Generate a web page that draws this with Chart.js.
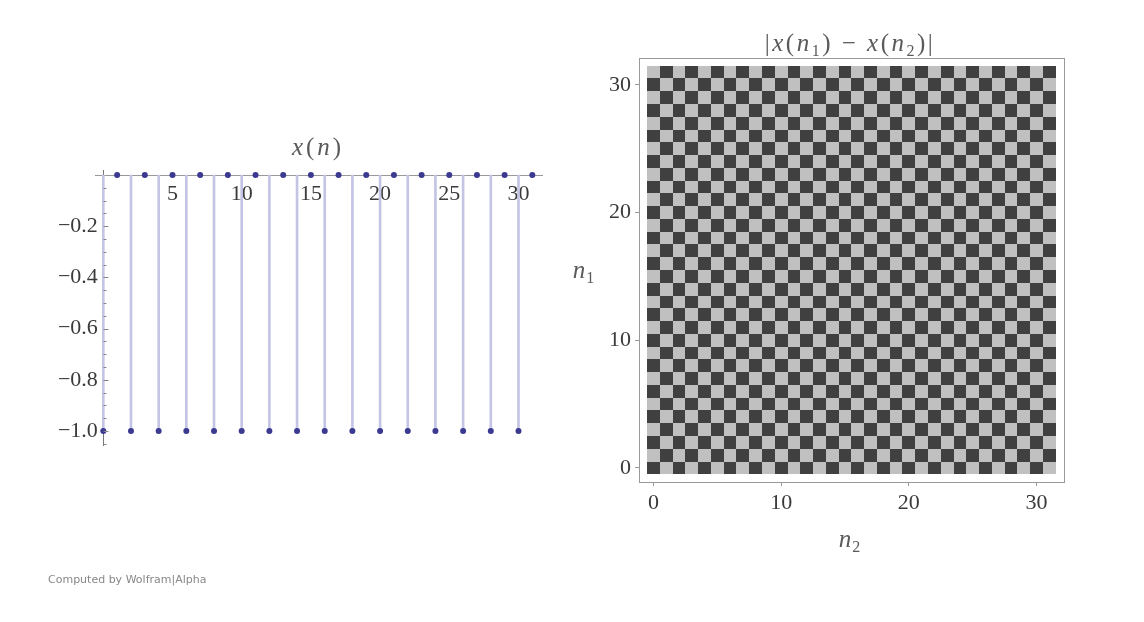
<!DOCTYPE html>
<html>
<head>
<meta charset="utf-8">
<script src="https://cdn.jsdelivr.net/npm/chart.js@4"></script>
<style>
  body { margin: 0; background: #fff; width: 1144px; height: 622px; position: relative; overflow: hidden; }
  #left { position: absolute; left: 0; top: 0; }
  #right { position: absolute; left: 560px; top: 0; }
  #credit { position: absolute; left: 48px; top: 573px; font: 11px "DejaVu Sans"; color: #888; }
</style>
</head>
<body>
<canvas id="left" width="560" height="622"></canvas>
<canvas id="right" width="584" height="622"></canvas>
<div id="credit">Computed by Wolfram|Alpha</div>
<script>
const nValues = [0, 1, 2, 3, 4, 5, 6, 7, 8, 9, 10, 11, 12, 13, 14, 15,
  16, 17, 18, 19, 20, 21, 22, 23, 24, 25, 26, 27, 28, 29, 30, 31];
const xValues = [-1, 0, -1, 0, -1, 0, -1, 0, -1, 0, -1, 0, -1, 0, -1, 0,
  -1, 0, -1, 0, -1, 0, -1, 0, -1, 0, -1, 0, -1, 0, -1, 0];
const stemTicksX = [5, 10, 15, 20, 25, 30];
const stemTicksY = [-1.0, -0.8, -0.6, -0.4, -0.2];
const stemMinorY = [-1.05, -0.95, -0.9, -0.85, -0.75, -0.7, -0.65, -0.55, -0.5, -0.45,
  -0.35, -0.3, -0.25, -0.15, -0.1, -0.05];
const heatTicks = [0, 10, 20, 30];

// |x(n1) - x(n2)|, rows are n1, columns n2
const heatValues = nValues.map(i => nValues.map(j => Math.abs(xValues[i] - xValues[j])));

const TICK_FONT = { family: "Liberation Serif", size: 22 };
const TICK_COLOR = "#3a3a3a";
const TITLE_COLOR = "#5a5a5a";

function drawRich(ctx, parts, cx, baseline, spacing) {
  ctx.save();
  ctx.letterSpacing = spacing + "px";
  ctx.textAlign = "left";
  ctx.textBaseline = "alphabetic";
  ctx.fillStyle = TITLE_COLOR;
  let w = 0;
  parts.forEach(p => { ctx.font = p[1]; w += ctx.measureText(p[0]).width; });
  let x = cx - w / 2;
  parts.forEach(p => {
    ctx.font = p[1];
    ctx.fillText(p[0], x, baseline + (p[2] || 0));
    x += ctx.measureText(p[0]).width;
  });
  ctx.restore();
}

const IT = 'italic 25px "Liberation Serif"';
const UP = '25px "Liberation Serif"';
const SUB = '16px "Liberation Serif"';
const minusLabel = v => (v < 0 ? "\u2212" : "") + Math.abs(v).toFixed(1);

// ---- left: stem plot of x(n)
const stemExtras = {
  id: "stemExtras",
  afterDraw(chart) {
    const { ctx, scales: { x, y } } = chart;
    const x0 = Math.round(x.getPixelForValue(0)) + 0.5;
    ctx.save();
    ctx.strokeStyle = "#888";
    ctx.lineWidth = 1;
    ctx.beginPath();
    stemTicksY.forEach(v => {
      const py = Math.round(y.getPixelForValue(v)) + 0.5;
      ctx.moveTo(x0, py); ctx.lineTo(x0 + 5, py);
    });
    stemMinorY.forEach(v => {
      const py = Math.round(y.getPixelForValue(v)) + 0.5;
      ctx.moveTo(x0, py); ctx.lineTo(x0 + 3, py);
    });
    ctx.stroke();
    ctx.restore();
    drawRich(ctx, [["x", IT], ["(", UP], ["n", IT], [")", UP]], 318, 155, 3);
  }
};

new Chart(document.getElementById("left"), {
  type: "scatter",
  data: {
    datasets: [
      {
        type: "bar",
        data: nValues.map((n, i) => ({ x: n, y: [0, xValues[i]] })),
        backgroundColor: "#c4c4e4",
        barThickness: 2,
        clip: false,
        order: 2
      },
      {
        data: nValues.map((n, i) => ({ x: n, y: xValues[i] })),
        backgroundColor: "#3b3990",
        borderWidth: 0,
        pointRadius: 3,
        clip: false,
        order: 1
      }
    ]
  },
  options: {
    responsive: false,
    animation: false,
    layout: { padding: { left: 95, right: 18, top: 170, bottom: 177 } },
    plugins: { legend: { display: false }, tooltip: { enabled: false } },
    scales: {
      x: {
        type: "linear",
        offset: false,
        min: -0.6,
        max: 31.7,
        position: { y: 0 },
        afterFit(s) { s.height = 0; },
        afterBuildTicks(s) { s.ticks = stemTicksX.map(v => ({ value: v })); },
        grid: { drawOnChartArea: false, drawTicks: false },
        border: { color: "#999" },
        ticks: { padding: 6, color: TICK_COLOR, font: TICK_FONT, maxRotation: 0, autoSkip: false }
      },
      y: {
        type: "linear",
        min: -1.055,
        max: 0.02,
        position: { x: 0 },
        afterFit(s) { s.width = 0; },
        afterBuildTicks(s) { s.ticks = stemTicksY.map(v => ({ value: v })); },
        grid: { drawOnChartArea: false, drawTicks: false },
        border: { color: "#777" },
        ticks: { color: TICK_COLOR, font: TICK_FONT, autoSkip: false, callback: v => minusLabel(v) + " " }
      }
    }
  },
  plugins: [stemExtras]
});

// ---- right: checkerboard |x(n1) - x(n2)|
const heatPlugin = {
  id: "heat",
  beforeDatasetsDraw(chart) {
    const { ctx, scales: { x, y } } = chart;
    ctx.save();
    heatValues.forEach((row, i) => row.forEach((v, j) => {
      const x0 = Math.round(x.getPixelForValue(j - 0.5));
      const x1 = Math.round(x.getPixelForValue(j + 0.5));
      const y0 = Math.round(y.getPixelForValue(i + 0.5));
      const y1 = Math.round(y.getPixelForValue(i - 0.5));
      ctx.fillStyle = v ? "#c0c0c0" : "#404040";
      ctx.fillRect(x0, y0, x1 - x0, y1 - y0);
    }));
    ctx.restore();
  },
  afterDraw(chart) {
    const { ctx, chartArea: a } = chart;
    ctx.save();
    ctx.strokeStyle = "#999";
    ctx.lineWidth = 1;
    ctx.strokeRect(Math.round(a.left) + 0.5, Math.round(a.top) + 0.5,
      Math.round(a.right - a.left), Math.round(a.bottom - a.top));
    ctx.restore();
    drawRich(ctx, [["|", UP], ["x", IT], ["(", UP], ["n", IT], ["1", SUB, 5], [") \u2212 ", UP],
      ["x", IT], ["(", UP], ["n", IT], ["2", SUB, 5], [")|", UP]], 290, 51, 2.5);
    drawRich(ctx, [["n", IT], ["1", SUB, 5]], 24, 278, 1);
    drawRich(ctx, [["n", IT], ["2", SUB, 5]], 290, 547, 1);
  }
};

new Chart(document.getElementById("right"), {
  type: "scatter",
  data: {
    datasets: [{
      data: heatValues.flatMap((row, i) => row.map((v, j) => ({ x: j, y: i, v }))),
      pointRadius: 0
    }]
  },
  options: {
    responsive: false,
    animation: false,
    layout: { padding: { left: 29, right: 80, top: 58, bottom: 100 } },
    plugins: { legend: { display: false }, tooltip: { enabled: false } },
    scales: {
      x: {
        type: "linear",
        min: -1.13,
        max: 32.15,
        afterFit(s) { s.height = 40; },
        afterBuildTicks(s) { s.ticks = heatTicks.map(v => ({ value: v })); },
        grid: { drawOnChartArea: false, drawTicks: true, tickLength: 4, color: "#999" },
        border: { display: false },
        ticks: { padding: 4, color: TICK_COLOR, font: TICK_FONT, maxRotation: 0, autoSkip: false }
      },
      y: {
        type: "linear",
        min: -1.1,
        max: 32.1,
        afterFit(s) { s.width = 50; },
        afterBuildTicks(s) { s.ticks = heatTicks.map(v => ({ value: v })); },
        grid: { drawOnChartArea: false, drawTicks: true, tickLength: 4, color: "#999" },
        border: { display: false },
        ticks: { padding: 4, color: TICK_COLOR, font: TICK_FONT, autoSkip: false }
      }
    }
  },
  plugins: [heatPlugin]
});
</script>
</body>
</html>
